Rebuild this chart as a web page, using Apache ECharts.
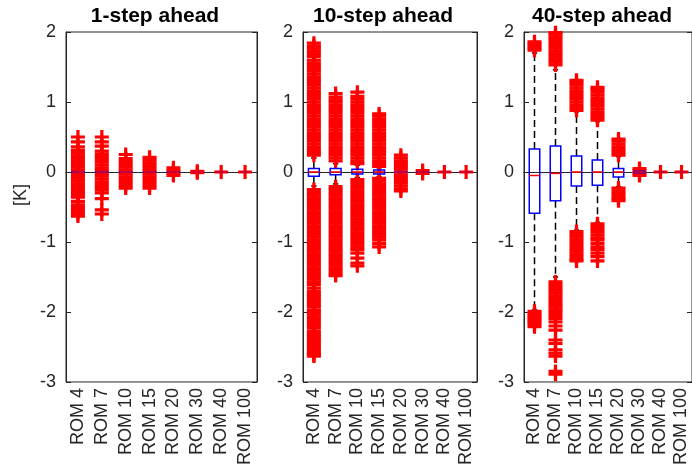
<!DOCTYPE html>
<html>
<head>
<meta charset="utf-8">
<script src="https://cdn.jsdelivr.net/npm/echarts@6/dist/echarts.min.js"></script>
<style>
html,body{margin:0;padding:0;background:#fff;}
#chart{width:692px;height:468px;}
</style>
</head>
<body>
<div id="chart"></div>
<script>
const categories = ['ROM 4','ROM 7','ROM 10','ROM 15','ROM 20','ROM 30','ROM 40','ROM 100'];
const titles = ['1-step ahead','10-step ahead','40-step ahead'];
const yLabel = '[K]';
const yMin = -3, yMax = 2, yStep = 1;

// box statistics per category: [lower whisker, q1, median, q3, upper whisker]
const box1 = [
  [-0.02,-0.005,0,0.005,0.02],
  [-0.02,-0.005,0,0.005,0.02],
  [-0.01,-0.003,0,0.003,0.01],
  [-0.01,-0.003,0,0.003,0.01],
  [-0.005,-0.002,0,0.002,0.005],
  [0,0,0,0,0],
  [0,0,0,0,0],
  [0,0,0,0,0]
];
const box2 = [
  [-0.20,-0.06,0.00,0.05,0.20],
  [-0.17,-0.04,0.00,0.05,0.12],
  [-0.08,-0.03,0.00,0.04,0.10],
  [-0.07,-0.03,0.00,0.03,0.06],
  [-0.01,-0.005,0,0.005,0.01],
  [-0.005,-0.002,0,0.002,0.005],
  [0,0,0,0,0],
  [0,0,0,0,0]
];
const box3 = [
  [-1.97,-0.59,-0.05,0.33,1.70],
  [-1.50,-0.41,-0.02,0.37,1.46],
  [-0.83,-0.20,0.00,0.23,0.86],
  [-0.72,-0.19,0.00,0.17,0.72],
  [-0.21,-0.07,0.00,0.05,0.22],
  [-0.02,-0.01,0.00,0.01,0.02],
  [0,0,0,0,0],
  [0,0,0,0,0]
];

// outliers per category
const out1 = [
  [0.50,0.43,0.36,0.31,0.27,0.23,0.19,0.15,0.11,0.07,0.03,-0.01,-0.05,-0.09,-0.13,-0.17,-0.21,-0.25,-0.29,-0.33,-0.36,-0.42,-0.47,-0.51,-0.55,-0.59,-0.63],
  [0.50,0.43,0.37,0.30,0.26,0.22,0.18,0.14,0.10,0.06,0.02,-0.02,-0.06,-0.10,-0.14,-0.18,-0.22,-0.26,-0.30,-0.38,-0.54,-0.60],
  [0.25,0.19,0.15,0.11,0.07,0.03,0.00,-0.03,-0.07,-0.11,-0.15,-0.19,-0.23],
  [0.21,0.17,0.13,0.09,0.05,0.01,-0.03,-0.07,-0.11,-0.15,-0.19,-0.23],
  [0.06,0.02,-0.02,-0.05],
  [0.01,-0.01],
  [0.00],
  [0.00]
];
const out2 = [
  [0.24,0.28,0.32,0.36,0.40,0.44,0.48,0.52,0.56,0.60,0.64,0.68,0.72,0.76,0.80,0.84,0.88,0.92,0.96,1.00,1.04,1.08,1.12,1.16,1.20,1.24,1.28,1.32,1.36,1.40,1.44,1.48,1.52,1.56,1.60,1.65,1.69,1.73,1.77,1.80,1.84,
   -0.25,-0.29,-0.33,-0.37,-0.41,-0.45,-0.49,-0.53,-0.57,-0.61,-0.65,-0.69,-0.73,-0.77,-0.81,-0.85,-0.89,-0.93,-0.97,-1.01,-1.05,-1.09,-1.13,-1.17,-1.21,-1.25,-1.29,-1.33,-1.37,-1.41,-1.45,-1.49,-1.53,-1.57,-1.61,-1.66,-1.71,-1.75,-1.78,-1.82,-1.85,-1.89,-1.92,-1.97,-2.00,-2.03,-2.07,-2.11,-2.15,-2.19,-2.23,-2.28,-2.32,-2.35,-2.39,-2.42,-2.46,-2.49,-2.53,-2.56,-2.59,-2.61,-2.63],
  [0.16,0.20,0.24,0.28,0.32,0.36,0.40,0.44,0.48,0.52,0.56,0.60,0.64,0.68,0.72,0.76,0.80,0.84,0.88,0.92,0.96,1.00,1.03,1.07,1.12,
   -0.21,-0.25,-0.29,-0.33,-0.37,-0.41,-0.45,-0.49,-0.53,-0.57,-0.61,-0.65,-0.69,-0.73,-0.77,-0.81,-0.85,-0.89,-0.93,-0.97,-1.01,-1.05,-1.09,-1.13,-1.17,-1.21,-1.25,-1.29,-1.33,-1.37,-1.41,-1.45,-1.48],
  [0.12,0.16,0.20,0.24,0.28,0.32,0.36,0.40,0.44,0.48,0.52,0.56,0.60,0.64,0.68,0.72,0.76,0.80,0.84,0.88,0.92,0.96,1.00,1.04,1.08,1.14,
   -0.11,-0.15,-0.19,-0.23,-0.27,-0.31,-0.35,-0.39,-0.43,-0.47,-0.51,-0.55,-0.59,-0.63,-0.67,-0.71,-0.75,-0.79,-0.83,-0.87,-0.91,-0.95,-0.99,-1.03,-1.07,-1.11,-1.16,-1.23,-1.30,-1.34],
  [0.08,0.12,0.16,0.20,0.24,0.28,0.32,0.36,0.40,0.44,0.48,0.52,0.56,0.60,0.64,0.68,0.72,0.76,0.80,0.83,
   -0.09,-0.13,-0.17,-0.21,-0.25,-0.29,-0.33,-0.37,-0.41,-0.45,-0.49,-0.53,-0.57,-0.61,-0.65,-0.69,-0.73,-0.77,-0.81,-0.85,-0.89,-0.93,-0.97,-1.02,-1.07],
  [0.24,0.20,0.16,0.12,0.08,0.04,0.00,-0.04,-0.08,-0.12,-0.16,-0.20,-0.24,-0.27],
  [0.02,-0.02],
  [0.00],
  [0.00]
];
const out3 = [
  [1.74,1.77,1.80,1.83,1.86,-1.99,-2.02,-2.05,-2.08,-2.11,-2.14,-2.17,-2.21],
  [1.53,1.57,1.61,1.65,1.69,1.73,1.77,1.81,1.85,1.89,1.93,1.97,1.99,
   -1.57,-1.61,-1.65,-1.69,-1.73,-1.77,-1.81,-1.85,-1.89,-1.93,-1.97,-2.01,-2.05,-2.09,-2.14,-2.20,-2.26,-2.40,-2.45,-2.54,-2.59,-2.63,-2.85,-2.89],
  [0.88,0.92,0.96,1.00,1.04,1.08,1.12,1.16,1.20,1.24,1.28,1.31,
   -0.85,-0.89,-0.93,-0.97,-1.01,-1.05,-1.09,-1.13,-1.17,-1.21,-1.25,-1.27],
  [0.74,0.78,0.82,0.86,0.90,0.94,0.98,1.02,1.06,1.10,1.14,1.18,1.21,
   -0.74,-0.78,-0.82,-0.86,-0.90,-0.94,-0.97,-1.02,-1.07,-1.11,-1.16,-1.21,-1.27],
  [0.24,0.28,0.32,0.36,0.40,0.44,0.47,-0.23,-0.27,-0.31,-0.35,-0.38,-0.41],
  [0.05,0.02,-0.02,-0.05],
  [0.00],
  [0.00]
];

const boxes = [box1, box2, box3];
const outliers = [out1, out2, out3];

const FONT = '"Liberation Sans", Arial, Helvetica, sans-serif';
const AX = '#262626';
const grids = [
  {left: 66, top: 32, width: 191, height: 350},
  {left: 303, top: 32, width: 174, height: 350},
  {left: 524, top: 32, width: 169, height: 350}
];
const titleCenters = [155, 383, 602];
const PLUS = 'path://M5.4,0H8.6V5.4H14V8.6H8.6V14H5.4V8.6H0V5.4H5.4Z';

function geom(api) {
  const i = api.value(0);
  const lo = api.coord([i, api.value(1)]);
  const q1 = api.coord([i, api.value(2)]);
  const md = api.coord([i, api.value(3)]);
  const q3 = api.coord([i, api.value(4)]);
  const hi = api.coord([i, api.value(5)]);
  const band = api.size([1, 0])[0];
  return {lo, q1, md, q3, hi, bw: band * 0.5, cx: lo[0]};
}
function renderWhisker(params, api) {
  const g = geom(api);
  const cw = g.bw * 0.5;
  const dash = {stroke: '#000', lineWidth: 1.5, lineDash: [7, 4], fill: null};
  const solid = {stroke: '#000', lineWidth: 1.5, fill: null};
  return {
    type: 'group',
    children: [
      {type: 'line', shape: {x1: g.cx, y1: g.q3[1], x2: g.cx, y2: g.hi[1]}, style: dash},
      {type: 'line', shape: {x1: g.cx, y1: g.q1[1], x2: g.cx, y2: g.lo[1]}, style: dash},
      {type: 'line', shape: {x1: g.cx - cw/2, y1: g.hi[1], x2: g.cx + cw/2, y2: g.hi[1]}, style: solid},
      {type: 'line', shape: {x1: g.cx - cw/2, y1: g.lo[1], x2: g.cx + cw/2, y2: g.lo[1]}, style: solid}
    ]
  };
}
function renderBox(params, api) {
  const g = geom(api);
  return {
    type: 'group',
    children: [
      {type: 'rect', shape: {x: g.cx - g.bw/2, y: g.q3[1], width: g.bw, height: g.q1[1] - g.q3[1]},
       style: {stroke: '#0000ff', lineWidth: 1.5, fill: null}},
      {type: 'line', shape: {x1: g.cx - g.bw/2, y1: g.md[1], x2: g.cx + g.bw/2, y2: g.md[1]},
       style: {stroke: '#ff0000', lineWidth: 1.5}}
    ]
  };
}

const xAxis = [], yAxis = [], series = [], title = [];
grids.forEach((g, k) => {
  xAxis.push({
    type: 'category', gridIndex: k, data: categories, boundaryGap: true,
    axisLine: {show: true, lineStyle: {color: AX, width: 1}},
    axisTick: {show: false},
    axisLabel: {rotate: 90, fontSize: 18, color: AX, fontFamily: FONT, margin: 6, interval: 0},
    splitLine: {show: false}
  });
  yAxis.push({
    type: 'value', gridIndex: k, position: 'left', min: yMin, max: yMax, interval: yStep,
    axisLine: {show: true, lineStyle: {color: AX, width: 1}},
    axisTick: {show: true, inside: true, length: 5, lineStyle: {color: AX}},
    axisLabel: {fontSize: 18, color: AX, fontFamily: FONT, margin: 10},
    splitLine: {show: false}
  });
  yAxis.push({
    type: 'value', gridIndex: k, position: 'right', min: yMin, max: yMax, interval: yStep,
    axisLine: {show: true, lineStyle: {color: AX, width: 1}},
    axisTick: {show: true, inside: true, length: 5, lineStyle: {color: AX}},
    axisLabel: {show: false},
    splitLine: {show: false}
  });
  const boxData = boxes[k].map((b, i) => [i].concat(b));
  series.push({
    type: 'custom', xAxisIndex: k, yAxisIndex: 2 * k, data: boxData,
    encode: {x: 0, y: [1, 2, 3, 4, 5]},
    renderItem: renderWhisker, silent: true, animation: false, z: 1
  });
  const pts = [];
  outliers[k].forEach((vals, i) => vals.forEach(v => pts.push([i, v])));
  series.push({
    type: 'scatter', xAxisIndex: k, yAxisIndex: 2 * k, data: pts,
    symbol: PLUS, symbolSize: 14, itemStyle: {color: '#ff0000', opacity: 1},
    emphasis: {disabled: true}, silent: true, animation: false, z: 2, clip: false
  });
  series.push({
    type: 'custom', xAxisIndex: k, yAxisIndex: 2 * k, data: boxData,
    encode: {x: 0, y: [1, 2, 3, 4, 5]},
    renderItem: renderBox, silent: true, animation: false, z: 3
  });
  title.push({
    text: titles[k], left: titleCenters[k] - 5, top: 1, textAlign: 'center',
    textStyle: {fontSize: 21, fontWeight: 'bold', color: '#000', fontFamily: FONT}
  });
});

const chart = echarts.init(document.getElementById('chart'), null, {renderer: 'canvas'});
chart.setOption({
  animation: false,
  backgroundColor: '#fff',
  title: title,
  grid: grids.map(g => Object.assign({show: true, borderColor: AX, borderWidth: 1, backgroundColor: 'transparent'}, g)),
  xAxis: xAxis,
  yAxis: yAxis,
  series: series,
  graphic: [{
    type: 'text', x: 21, y: 195, rotation: Math.PI / 2,
    style: {text: yLabel, fontSize: 18, fontFamily: FONT, fill: AX, align: 'center', verticalAlign: 'middle'}
  }]
});
</script>
</body>
</html>
